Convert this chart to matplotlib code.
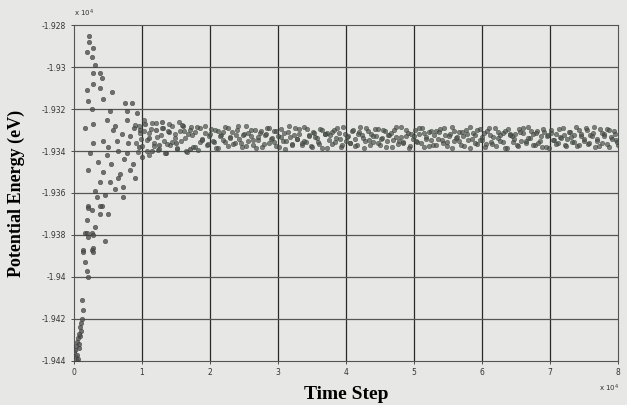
import matplotlib
matplotlib.use("Agg")
import matplotlib.pyplot as plt
import numpy as np

# transient part: (time step, potential energy in eV)
trans_t = [2200, 2200, 1900, 2800, 2600, 3100, 3800, 4100, 2800, 1900, 2800, 3800,
           5600, 4300, 2100, 7500, 8500, 2600, 5300, 7800, 1600, 2800, 4900, 5700,
           7800, 9200, 2800, 4300, 6300, 8200, 9700, 2400, 4900, 7800, 8700, 2100,
           4300, 6800, 8200, 3800, 5300, 7200, 3100, 3400, 7200, 2100, 4100, 2600,
           3800, 1900, 3100, 2600, 1600, 2100, 2800, 2600, 1300, 1600, 2100, 3800,
           1900, 2800, 1300, 2800, 1900, 2100, 1200, 1300, 1200, 900, 600, 500,
           200, 0, 5000, 6000, 6500, 7000, 7300, 8000, 8800, 9500, 10000, 10500,
           11000, 11500, 12000, 12500, 13000, 13500, 14000, 15000, 16000, 17000, 5500, 6000,
           4500, 3500, 6500, 9000, 5000, 4500, 300, 400, 200, 500, 700, 600,
           100, 800, 900, 300, 1000, 400, 700, 1100]
trans_e = [-19285, -19288, -19293, -19291, -19295, -19299, -19303, -19305, -19303, -19311, -19308, -19310,
           -19312, -19315, -19316, -19317, -19317, -19320, -19321, -19321, -19329, -19327, -19325, -19330,
           -19325, -19322, -19336, -19335, -19335, -19333, -19330, -19341, -19342, -19341, -19346, -19349,
           -19350, -19351, -19349, -19355, -19355, -19357, -19359, -19362, -19362, -19366, -19366, -19368,
           -19370, -19373, -19376, -19379, -19379, -19381, -19386, -19387, -19387, -19393, -19367, -19366,
           -19379, -19380, -19388, -19388, -19397, -19400, -19411, -19416, -19420, -19424, -19429, -19431,
           -19435, -19436, -19338, -19328, -19340, -19332, -19344, -19336, -19329, -19338, -19343, -19327,
           -19334, -19340, -19330, -19337, -19326, -19341, -19331, -19336, -19328, -19339, -19346, -19358,
           -19361, -19345, -19353, -19353, -19370, -19383, -19438, -19440, -19442, -19437, -19434, -19439,
           -19441, -19432, -19428, -19433, -19426, -19443, -19427, -19422]

# equilibrated part: two interleaved samplings from 9000 to 80000 steps
band_start = 9000
band_stop = 80000
band_level = -19333.5
band_dev_a = [6.0, -7.2, 1.9, -4.2, 8.1, -1.3, -8.4, 3.8, -2.7, 6.7, -6.2, 1.0, 4.6, -7.6, 2.9,
              -3.5, 5.6, -0.5, -5.4, 7.3, -1.8, 3.2, -6.5, 1.4, 5.0, -4.6, 2.4, -5.8, 4.3, -0.8,
              2.2, -3.4, 0.5, 4.2, -2.4, -5.1, 3.0, 1.1, -1.4, 4.8, -4.0, 0.2, 2.6, -2.9, 3.7, -0.6, -4.5, 1.8, 5.3, -1.9,
              0.8, -3.7, 3.4, -1.1, 2.1, -4.8, 1.3, 4.3, -2.6, -0.3, 2.9, -4.2, 0.6, 3.8, -1.6, -5.4, 2.4, 0.3, -3.0, 4.6,
              -1.0, 1.6, -3.5, 5.0, -2.2, 1.0, -4.3, 2.7, 0.0, -2.1, 4.0, -5.0, 1.4, 1.9, -1.3, -3.2, 3.5, -0.2, 2.2, -4.6,
              5.1, -1.8, 0.5, -2.7, 3.2, -0.8, -3.8, 2.6, 1.1, -5.3, 4.5, -1.4, 1.8, -2.4, 0.6, 4.2, -3.4, -0.5, 3.0, -1.9,
              1.3, -4.5, 3.7, 0.2, -1.6, 4.8, -2.9, 0.8, 2.1, -4.0, -1.0, 3.4, -2.2, 1.4, 4.3, -4.8, 0.3, 2.4, -1.3, -3.5,
              2.9, -0.6, 3.8, -2.6, 1.0, -4.2, 1.6, 5.0, -1.8, -0.3, 2.7, -3.7, 0.5, 3.5, -1.4, -5.1, 1.9, 1.1, -3.0, 4.0,
              -1.1, 2.2, -3.2, 4.6, -2.1, 0.0, -4.3, 2.6, 1.3, -2.4, 3.2, -5.0, 1.8, 0.6, -1.0, -3.8, 4.2, -1.6, 2.1, -2.9,
              4.8, -0.5, 1.4, -3.4, 3.0, -1.9, -4.6, 2.4, 0.8, -5.3, 3.7, -1.3, 1.6, -2.7, 0.3, 4.5, -3.5, -0.8, 2.7, -2.2,
              1.1, -4.0, 3.4, 0.5, -1.8, 4.3, -3.0, 1.0, 1.9, -4.5, -0.6, 3.8, -2.6, 1.8, 4.0, -4.8, 0.2, 2.9, -1.1, -3.7]
band_dev_b = [-2.8, 5.4, -0.9, 3.1, -6.3, 2.2, 7.0, -3.9, 0.4, -5.7, 4.4, -1.6, -3.3, 6.4, -2.0,
              1.7, -4.9, 2.8, 5.9, -0.2, -7.0, 3.6, 0.9, -4.4, 4.9, -2.3, -1.2, 5.2, -3.0, 1.5,
              -1.7, 3.3, -4.9, 0.7, 2.5, -2.0, 4.4, -0.4, -3.1, 1.2, 5.2, -2.5, 0.9, -4.1, 2.0, 3.6, -1.2, -5.0, 0.4, 2.8,
              -3.3, 1.5, 4.7, -0.7, -2.3, 3.1, -4.4, 0.1, 2.3, -1.5, 5.3, -3.6, 1.2, -0.9, 3.9, -2.8, -1.7, 4.1, 0.7, -4.7,
              2.0, -0.1, -3.0, 3.4, 1.6, -5.2, 0.9, 2.5, -2.1, 4.6, -1.0, -3.7, 1.8, 0.4, -2.5, 3.7, -4.1, 1.5, 4.9, -0.4,
              -1.9, 2.8, -3.4, 0.6, 4.1, -2.7, -0.9, 3.3, -4.6, 1.3, 2.2, -1.2, 5.0, -3.1, 0.0, -2.0, 3.6, -4.9, 1.7, 0.5,
              -1.5, 4.4, -2.9, 2.1, -0.6, -4.2, 3.0, 1.0, -3.6, 2.6, -1.1, 4.7, -2.4, 0.8, -5.0, 3.2, 0.3, -1.8, 2.4, -3.9,
              1.6, 5.1, -0.7, -2.6, 3.5, -1.4, 0.4, -4.4, 2.9, 1.1, -3.2, 4.3, -0.3, -1.9, 2.0, -5.1, 3.8, 0.9, -2.2, 1.4,
              -4.0, 2.6, 4.6, -1.6, -0.2, 3.1, -3.5, 1.9, -2.8, 0.6, 4.0, -4.5, 1.3, 2.3, -1.1, -3.0, 3.9, -0.5, 1.0, -4.3,
              2.7, 0.2, -2.0, 4.8, -3.8, 1.4, -0.8, 3.3, -2.6, 0.7, 5.0, -1.7, -4.1, 2.2, 0.5, -3.3, 3.6, -1.0, 1.8, -2.4]

x_ticks = [0, 10000, 20000, 30000, 40000, 50000, 60000, 70000, 80000]
x_labels = ['0', '1', '2', '3', '4', '5', '6', '7', '8']
y_ticks = [-19440, -19420, -19400, -19380, -19360, -19340, -19320, -19300, -19280]
y_labels = ['-1.944', '-1.942', '-1.94', '-1.938', '-1.936', '-1.934', '-1.932', '-1.93', '-1.928']

bg = '#e7e7e5'
fig = plt.figure(figsize=(6.27, 4.05), dpi=100, facecolor=bg)
ax = fig.add_axes([0.118, 0.109, 0.868, 0.829], facecolor=bg)

band_t_a = np.linspace(band_start, band_stop, len(band_dev_a))
band_t_b = np.linspace(band_start + 170, band_stop - 170, len(band_dev_b))
band_e_a = band_level + np.array(band_dev_a)
band_e_b = band_level + np.array(band_dev_b)

ax.scatter(trans_t, trans_e, s=11, c='#505050', edgecolors='#2e2e2e', linewidths=0.3, alpha=0.8, zorder=3)
for bt, be in [(band_t_a, band_e_a), (band_t_b, band_e_b)]:
    ax.scatter(bt, be, s=11, c='#4a524a', edgecolors='#2e332e', linewidths=0.3, alpha=0.7, zorder=3)

ax.set_xlim(0, 80000)
ax.set_ylim(-19440, -19280)
ax.set_xticks(x_ticks)
ax.set_xticklabels(x_labels)
ax.set_yticks(y_ticks)
ax.set_yticklabels(y_labels)
ax.tick_params(labelsize=5.5, colors='#333333', length=2, width=0.6)

for t in x_ticks[1:-1]:
    ax.axvline(t, color='#2a2a2a', lw=0.9, zorder=1)
for e in y_ticks[1:-1]:
    ax.axhline(e, color='#555555', lw=0.9, zorder=1)
for sp in ax.spines.values():
    sp.set_color('#555555')
    sp.set_linewidth(0.8)

ax.set_xlabel('Time Step', family='Liberation Serif', fontsize=14, fontweight='bold', labelpad=6)
ax.set_ylabel('Potential Energy (eV)', family='Liberation Serif', fontsize=13, fontweight='bold', labelpad=12)

fig.text(0.118, 0.952, r'x 10$^4$', fontsize=5, color='#333333', ha='left', va='bottom')
fig.text(0.972, 0.028, r'x 10$^4$', fontsize=5, color='#333333', ha='center', va='bottom')

fig.savefig('out.png', dpi=100, facecolor=bg)
